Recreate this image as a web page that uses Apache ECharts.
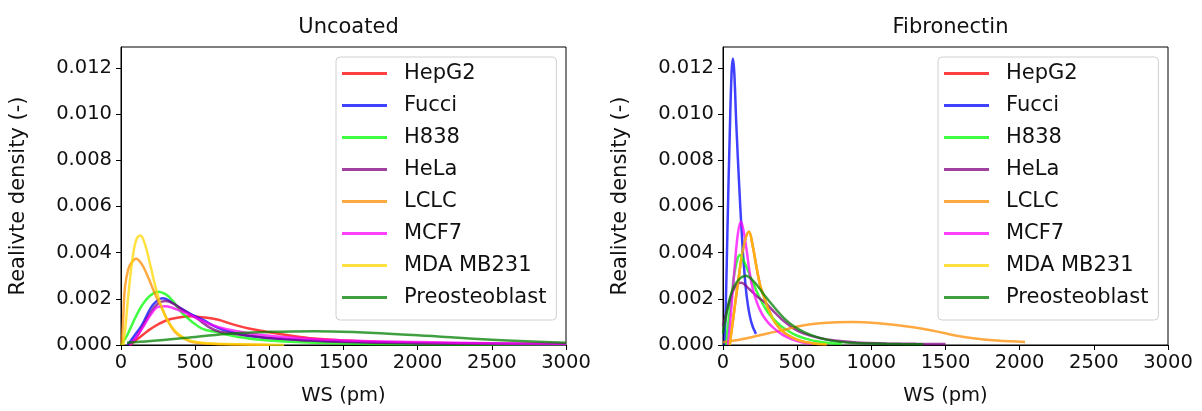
<!DOCTYPE html>
<html>
<head>
<meta charset="utf-8">
<script src="https://cdn.jsdelivr.net/npm/echarts@6/dist/echarts.min.js"></script>
<style>
html,body{margin:0;padding:0;background:#fff;}
#chart{width:1202px;height:411px;}
</style>
</head>
<body>
<div id="chart"></div>
<script>
// ---- data ----
const names = ["HepG2","Fucci","H838","HeLa","LCLC","MCF7","MDA MB231","Preosteoblast"];
const titles = ["Uncoated","Fibronectin"];
const xTicks = [0,500,1000,1500,2000,2500,3000];
const yTicks = [0,0.002,0.004,0.006,0.008,0.010,0.012];

// Uncoated
const u_HepG2 = [[60,0],[100,0.0002],[150,0.00045],[200,0.0007],[300,0.00105],[400,0.0012],[470,0.00124],[550,0.0012],[650,0.0011],[760,0.00088],[870,0.0007],[1000,0.00055],[1150,0.0004],[1300,0.00028],[1500,0.00019],[1750,0.00013],[2000,0.0001],[2500,0.00006],[3000,0.00004]];
const u_Fucci = [[45,0],[90,0.0004],[140,0.00085],[200,0.0016],[240,0.0019],[280,0.00202],[330,0.0019],[400,0.0016],[480,0.0013],[550,0.0011],[650,0.00075],[750,0.00055],[850,0.0004],[1000,0.0003],[1250,0.0002],[1500,0.00014],[2000,0.00008],[2500,0.00005],[3000,0.00003]];
const u_H838 = [[0,0],[40,0.0004],[90,0.0011],[140,0.0017],[190,0.0021],[250,0.00231],[300,0.0022],[350,0.0019],[410,0.0014],[480,0.001],[550,0.0007],[650,0.00055],[750,0.0004],[900,0.00025],[1100,0.00015],[1500,0.00006],[2000,0.00003],[3000,0.00001]];
const u_HeLa = [[50,0],[100,0.0003],[150,0.00085],[200,0.0014],[250,0.0018],[300,0.0019],[350,0.0018],[420,0.0015],[500,0.0012],[630,0.00065],[750,0.0005],[900,0.00038],[1000,0.0003],[1250,0.0002],[1500,0.00013],[2000,0.00007],[2500,0.00004],[3000,0.00002]];
const u_LCLC = [[5,0],[15,0.0012],[27,0.0025],[50,0.0033],[75,0.0036],[100,0.00373],[140,0.0035],[185,0.0029],[230,0.0022],[275,0.0016],[320,0.001],[365,0.00056],[420,0.0003],[480,0.00013],[600,0.00005],[800,0.00002],[1000,0]];
const u_MCF7 = [[60,0],[110,0.0004],[160,0.0009],[210,0.0014],[250,0.00165],[300,0.00168],[350,0.0016],[430,0.0014],[520,0.00113],[600,0.0009],[700,0.0007],[850,0.00052],[1000,0.0004],[1250,0.00028],[1500,0.0002],[2000,0.00013],[2500,0.00008],[3000,0.00005]];
const u_MDA = [[15,0],[30,0.0008],[50,0.0022],[75,0.0036],[100,0.0045],[130,0.00474],[160,0.0044],[200,0.0034],[230,0.00257],[260,0.0019],[297,0.00127],[340,0.0008],[387,0.00048],[450,0.00022],[550,0.0001],[700,0.00004],[1100,0]];
const u_Preo = [[40,0.0001],[200,0.00017],[500,0.00035],[750,0.0005],[1000,0.00057],[1300,0.0006],[1600,0.00055],[2000,0.00042],[2500,0.00023],[3000,0.0001]];

// Fibronectin
const f_HepG2 = [[45,0],[70,0.0012],[101,0.0027],[140,0.0043],[175,0.0049],[200,0.0043],[225,0.0034],[250,0.0026],[281,0.002],[310,0.0015],[348,0.001],[400,0.0006],[461,0.00034],[530,0.00016],[600,0.00008],[700,0.00003]];
const f_Fucci = [[10,0],[20,0.002],[30,0.005],[45,0.009],[58,0.0118],[67,0.0124],[76,0.0118],[90,0.0095],[110,0.0068],[125,0.005],[140,0.0035],[162,0.002],[190,0.001],[222,0.00048]];
const f_H838 = [[20,0],[40,0.0012],[56,0.002],[80,0.0032],[115,0.0039],[150,0.0035],[191,0.00286],[250,0.002],[303,0.00141],[360,0.001],[416,0.0007],[500,0.0004],[600,0.0002],[700,0.0001],[800,0.00005]];
const f_HeLa = [[0,0.0008],[40,0.0018],[80,0.0025],[121,0.0027],[180,0.0024],[230,0.0021],[281,0.00185],[350,0.0014],[416,0.001],[480,0.0007],[551,0.00048],[650,0.0003],[753,0.00019],[900,0.00011],[1100,0.00007],[1300,0.00005],[1500,0.00004]];
const f_LCLC = [[0,0.00012],[100,0.00022],[200,0.00035],[300,0.0005],[400,0.00064],[520,0.00082],[650,0.00094],[870,0.001],[1050,0.00094],[1283,0.00077],[1430,0.0006],[1576,0.0004],[1700,0.00028],[1846,0.00019],[2036,0.00013]];
const f_MCF7 = [[34,0],[55,0.0015],[79,0.0034],[100,0.0048],[121,0.00533],[140,0.0049],[157,0.0042],[191,0.0027],[220,0.002],[258,0.0014],[300,0.001],[348,0.0007],[400,0.00045],[461,0.00026],[530,0.00012],[600,0.00005]];
const f_MDA = [[45,0],[70,0.0012],[101,0.0027],[140,0.0043],[175,0.0049],[200,0.0043],[225,0.0034],[250,0.0026],[281,0.002],[310,0.0015],[348,0.001],[400,0.0006],[461,0.00034],[530,0.00016],[600,0.00008],[700,0.00003]];
const f_Preo = [[0,0.0005],[20,0.0012],[45,0.002],[90,0.0027],[155,0.003],[200,0.0028],[240,0.0025],[281,0.00214],[350,0.0016],[416,0.00113],[480,0.0008],[551,0.00055],[640,0.00033],[731,0.00019],[850,0.0001],[1000,0.00006],[1200,0.00004],[1350,0.00003]];

const colors = ["rgba(255,0,0,0.75)","rgba(0,0,255,0.75)","rgba(0,255,0,0.75)","rgba(128,0,128,0.75)","rgba(255,140,0,0.75)","rgba(255,0,255,0.75)","rgba(255,215,0,0.75)","rgba(0,128,0,0.75)"];

const panels = [
  [u_HepG2,u_Fucci,u_H838,u_HeLa,u_LCLC,u_MCF7,u_MDA,u_Preo],
  [f_HepG2,f_Fucci,f_H838,f_HeLa,f_LCLC,f_MCF7,f_MDA,f_Preo]
];

// ---- chart ----
const FONT = "DejaVu Sans";
const TXT = "#111";
const gridLefts = [121, 723];
const gridW = 445;

const grids = gridLefts.map(l => ({left:l, top:47, width:gridW, height:299, show:true, borderColor:"#000", borderWidth:1, backgroundColor:"transparent"}));

const xAxes = gridLefts.map((l,i) => ({
  type:"value", gridIndex:i, min:xTicks[0], max:xTicks[xTicks.length-1], interval:500,
  name:"WS (pm)", nameLocation:"middle", nameGap:41,
  nameTextStyle:{fontFamily:FONT,fontSize:19.5,color:TXT},
  axisLine:{show:true,lineStyle:{color:"#000",width:1}},
  axisTick:{show:true,inside:false,length:5,lineStyle:{color:"#000"}},
  axisLabel:{fontFamily:FONT,fontSize:19.5,color:TXT,margin:8,formatter:v => String(v)},
  splitLine:{show:false}
}));

const yAxes = gridLefts.map((l,i) => ({
  type:"value", gridIndex:i, min:0, max:0.0129, interval:0.002,
  name:"Realivte density (-)", nameLocation:"middle", nameGap:92,
  nameTextStyle:{fontFamily:FONT,fontSize:21,color:TXT},
  axisLine:{show:true,lineStyle:{color:"#000",width:1}},
  axisTick:{show:true,inside:false,length:5,lineStyle:{color:"#000"}},
  axisLabel:{fontFamily:FONT,fontSize:19.5,color:TXT,margin:9,showMaxLabel:false,
    formatter:v => v.toFixed(3)},
  splitLine:{show:false}
}));

const series = [];
panels.forEach((arr,p) => {
  arr.forEach((d,k) => {
    series.push({
      type:"line", name:names[k], xAxisIndex:p, yAxisIndex:p,
      data:d, showSymbol:false, symbol:"none", smooth:0.4,
      lineStyle:{color:colors[k], width:2.5}, itemStyle:{color:colors[k]},
      z: 2 + k, animation:false, clip:true
    });
  });
});

const legends = gridLefts.map((l,i) => ({
  orient:"vertical", left:l+215, top:57,
  data:names, icon:"rect", itemWidth:45, itemHeight:3, itemGap:11,
  padding:[6,10,12,6],
  backgroundColor:"rgba(255,255,255,0.8)", borderColor:"#d0d0d0", borderWidth:1, borderRadius:4,
  textStyle:{fontFamily:FONT,fontSize:21,color:TXT,lineHeight:21,padding:[0,0,0,12]},
  selectedMode:false
}));

const chart = echarts.init(document.getElementById("chart"), null, {renderer:"canvas"});
chart.setOption({
  animation:false,
  backgroundColor:"#fff",
  title: titles.map((t,i) => ({text:t, left:gridLefts[i]+gridW/2, top:12, textAlign:"center",
    textStyle:{fontFamily:FONT,fontSize:21,fontWeight:"normal",color:TXT}})),
  grid:grids, xAxis:xAxes, yAxis:yAxes, legend:legends, series:series
});
</script>
</body>
</html>
